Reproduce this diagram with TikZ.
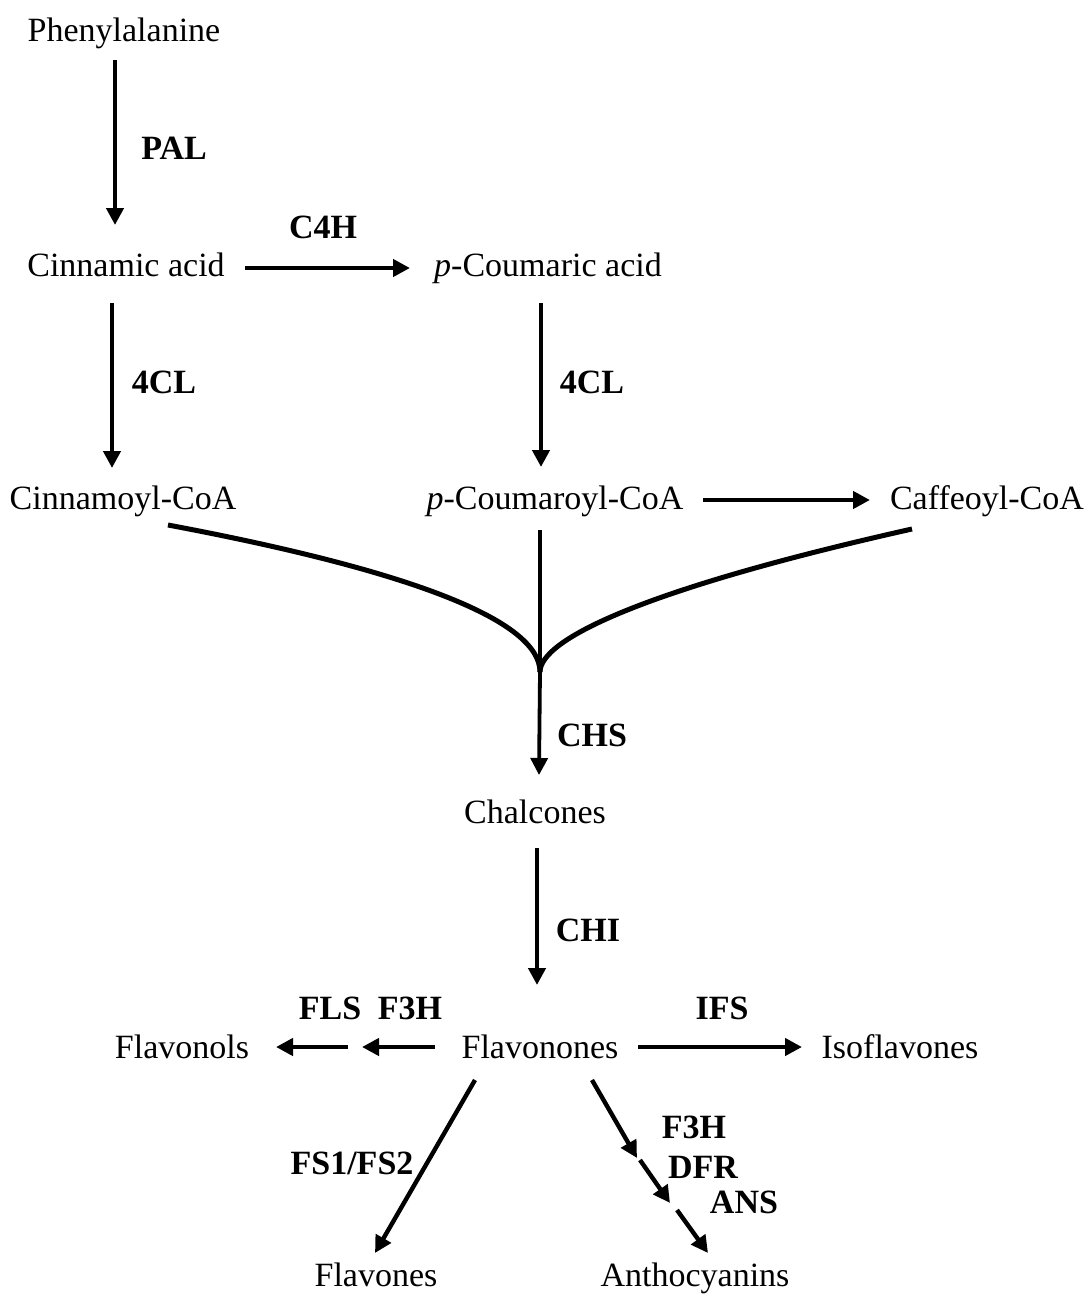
\documentclass[tikz,border=0pt]{standalone}
\usepackage{fontspec}
\setmainfont{Liberation Serif}
\usetikzlibrary{arrows.meta,calc}
\begin{document}
\begin{tikzpicture}[x=1pt,y=-1pt,
  txt/.style={inner sep=0pt,anchor=base,font=\fontsize{34}{40}\selectfont},
  lab/.style={inner sep=0pt,text depth=0pt,font=\fontsize{34}{40}\selectfont\bfseries},
  arr/.style={line width=4.4pt,-{Triangle[length=17pt,width=17pt]}},
  curve/.style={line width=5pt},
  stem/.style={line width=3.3pt}]
\useasboundingbox (0,0) rectangle (1088,1296);
\fill[white] (0,0) rectangle (1088,1296);
% compounds (placed by baseline)
\node[txt] (phe) at (124,41) {Phenylalanine};
\node[txt] (cin) at (126,276) {Cinnamic acid};
\node[txt] (pco) at (548,276) {\textit{p}-Coumaric acid};
\node[txt] (cmc) at (123,509) {Cinnamoyl-CoA};
\node[txt] (pcc) at (555,509) {\textit{p}-Coumaroyl-CoA};
\node[txt] (caf) at (987,509) {Caffeoyl-CoA};
\node[txt] (chal) at (535,823) {Chalcones};
\node[txt] (flav) at (540,1058) {Flavonones};
\node[txt] (flol) at (182,1058) {Flavonols};
\node[txt] (iso) at (900,1058) {Isoflavones};
\node[txt] (fla) at (376,1286) {Flavones};
\node[txt] (anth) at (695,1286) {Anthocyanins};
\coordinate (dhf) at (355,1047);
\coordinate (m) at (540,672);
\coordinate (s1) at (637,1158);
\coordinate (s2) at (640,1160);
\coordinate (s3) at (670,1203);
\coordinate (s4) at (677,1210);
% enzymes
\node[lab] (pal) at (174,148) {PAL};
\node[lab] (c4h) at (323,227) {C4H};
\node[lab] (cl1) at (164,382) {4CL};
\node[lab] (cl2) at (592,382) {4CL};
\node[lab] (chs) at (592,735) {CHS};
\node[lab] (chi) at (588,930) {CHI};
\node[lab] (fls) at (330,1008) {FLS};
\node[lab] (f3a) at (410,1008) {F3H};
\node[lab] (ifs) at (722,1008) {IFS};
\node[lab] (fs) at (352,1163) {FS1/FS2};
\node[lab] (f3b) at (694,1127) {F3H};
\node[lab] (dfr) at (703,1167) {DFR};
\node[lab] (ans) at (744,1202) {ANS};
% connectors
\draw[arr] ($(phe.base)+(-9,19)$) -- ($(cin.base)+(-11,-51)$);
\draw[arr] ($(cin.base)+(119,-8)$) -- ($(pco.base)+(-138,-8)$);
\draw[arr] ($(cin.base)+(-14,27)$) -- ($(cmc.base)+(-11,-41)$);
\draw[arr] ($(pco.base)+(-7,27)$) -- ($(pcc.base)+(-14,-42)$);
\draw[arr] ($(pcc.base)+(148,-9)$) -- ($(caf.base)+(-117,-9)$);
\draw[curve] ($(cmc.base)+(45,16)$) .. controls (418,572) and (540,622) .. (m);
\draw[curve] ($(caf.base)+(-75,20)$) .. controls (640,590) and (540,640) .. (m);
\draw[stem] ($(pcc.base)+(-15,21)$) -- (m);
\draw[arr,line width=3.8pt] (m) -- ($(chal.base)+(4,-48)$);
\draw[arr] ($(chal.base)+(2,25)$) -- ($(flav.base)+(-3,-73)$);
\draw[arr] ($(flav.base)+(-105,-11)$) -- ($(dhf)+(7,0)$);
\draw[arr] ($(dhf)+(-7,0)$) -- ($(flol.base)+(94,-11)$);
\draw[arr] ($(flav.base)+(98,-11)$) -- ($(iso.base)+(-98,-11)$);
\draw[arr] ($(flav.base)+(-65,22)$) -- ($(fla.base)+(-1,-33)$);
\draw[arr] ($(flav.base)+(52,22)$) -- (s1);
\draw[arr] (s2) -- (s3);
\draw[arr] (s4) -- ($(anth.base)+(13,-33)$);
\end{tikzpicture}
\end{document}
